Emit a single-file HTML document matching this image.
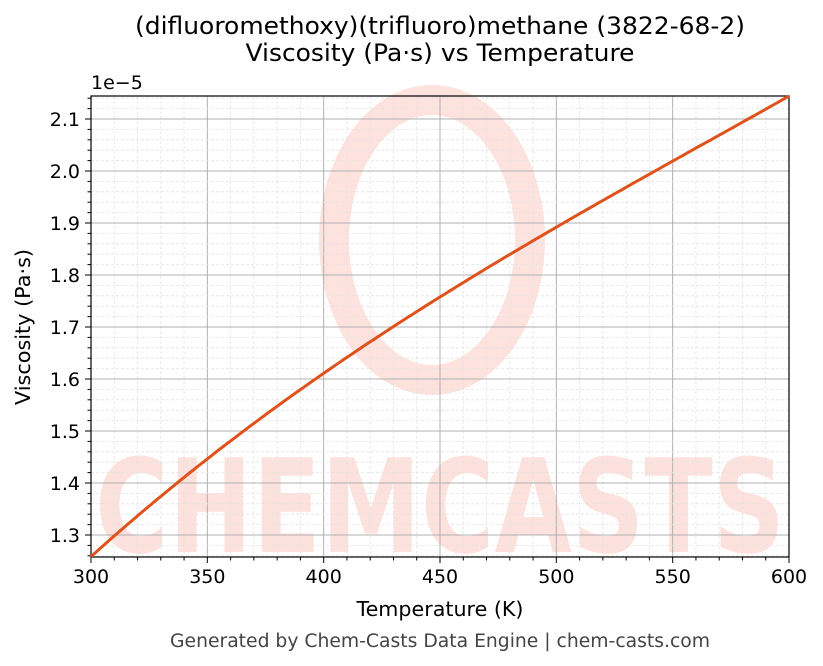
<!DOCTYPE html>
<html><head><meta charset="utf-8"><style>body{margin:0;background:#fff}svg{display:block}</style></head><body>
<svg width="823" height="666" xmlns="http://www.w3.org/2000/svg" font-family="'DejaVu Sans','Liberation Sans',sans-serif">
<rect width="823" height="666" fill="#fff"/>
<g id="wm" fill="#fde0dc" opacity="0.95">
<ellipse cx="432" cy="240" rx="98" ry="140" fill="none" stroke="#fde0dc" stroke-width="30"/>
<text x="440" y="552" font-size="130" font-weight="bold" text-anchor="middle" textLength="690" lengthAdjust="spacingAndGlyphs" font-family="'DejaVu Sans',sans-serif">CHEMCASTS</text>
</g>
<g id="grid"></g>
<rect x="91" y="96" width="698" height="461" fill="none" stroke="#000" stroke-width="1.2"/>
<polyline fill="none" stroke="#e0521c" stroke-width="3" points=""/>
<text x="440" y="34" font-size="24" text-anchor="middle" textLength="610" lengthAdjust="spacingAndGlyphs">(difluoromethoxy)(trifluoro)methane (3822-68-2)</text>
<text x="440" y="61" font-size="24" text-anchor="middle" textLength="389" lengthAdjust="spacingAndGlyphs">Viscosity (Pa·s) vs Temperature</text>
<text x="91" y="89" font-size="19">1e−5</text>
<text x="440" y="616" font-size="20" text-anchor="middle" textLength="167" lengthAdjust="spacingAndGlyphs">Temperature (K)</text>
<text x="30" y="327" font-size="20" text-anchor="middle" transform="rotate(-90 30 327)" textLength="156" lengthAdjust="spacingAndGlyphs">Viscosity (Pa·s)</text>
<text x="440" y="647" font-size="18.5" fill="#444" text-anchor="middle" textLength="540" lengthAdjust="spacingAndGlyphs">Generated by Chem-Casts Data Engine | chem-casts.com</text>
</svg>
<script>
const ns="http://www.w3.org/2000/svg",g=document.getElementById('grid'),svg=document.querySelector('svg');
function el(t,a,p){const e=document.createElementNS(ns,t);for(const k in a)e.setAttribute(k,a[k]);(p||g).appendChild(e);return e}
const X=t=>91+(t-300)*698/300, Y=v=>535-(v-1.3)*520;
for(let t=300;t<=600;t+=10){const x=X(t),maj=t%50==0;
 el('line',{x1:x,x2:x,y1:96,y2:557,stroke:maj?'#b0b0b0':'#e4e4e4','stroke-width':maj?1:0.8,'stroke-dasharray':maj?'':'3,2'});
 el('line',{x1:x,x2:x,y1:557,y2:557+(maj?6:3.5),stroke:'#000'});
 if(maj){const tx=el('text',{x:x,y:583,'font-size':19,'text-anchor':'middle'});tx.textContent=t;}}
for(let i=0;;i++){const v=1.26+i*0.02;if(v>2.15)break;const y=Y(v);const maj=Math.abs(Math.round(v*10)-v*10)<1e-6;
 el('line',{x1:91,x2:789,y1:y,y2:y,stroke:maj?'#b0b0b0':'#e4e4e4','stroke-width':maj?1:0.8,'stroke-dasharray':maj?'':'3,2'});
 el('line',{x1:91,x2:91-(maj?6:3.5),y1:y,y2:y,stroke:'#000'});
 if(maj){const tx=el('text',{x:80,y:y+7,'font-size':19,'text-anchor':'end'});tx.textContent=v.toFixed(1);}}
const T=[300,400,500,600],V=[1.2585,1.611,1.892,2.144];
function interp(t){let s=0;for(let i=0;i<4;i++){let l=1;for(let j=0;j<4;j++)if(j!=i)l*=(t-T[j])/(T[i]-T[j]);s+=l*V[i];}return s}
let pts=[];for(let t=300;t<=600;t+=2)pts.push(X(t).toFixed(1)+','+Y(interp(t)).toFixed(1));
svg.querySelector('polyline').setAttribute('points',pts.join(' '));
</script>
</body></html>
